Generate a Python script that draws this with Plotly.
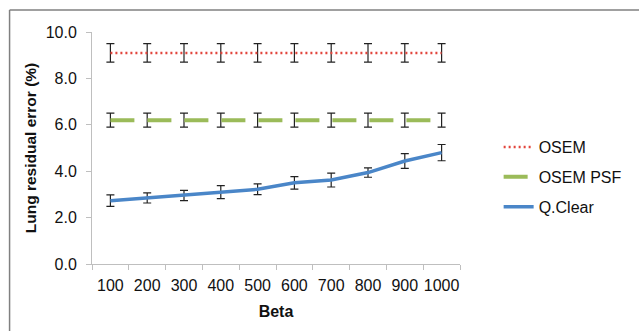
import plotly.graph_objects as go

beta = ["100", "200", "300", "400", "500", "600", "700", "800", "900", "1000"]
osem = [9.1] * 10
osem_err = [0.4] * 10
psf = [6.2] * 10
psf_err = [0.3] * 10
qclear = [2.73, 2.85, 2.95, 3.1, 3.22, 3.5, 3.62, 3.94, 4.44, 4.8]
qclear_err = [0.25, 0.22, 0.22, 0.28, 0.23, 0.27, 0.3, 0.2, 0.32, 0.35]

FONT = "Liberation Sans, Arial, sans-serif"

fig = go.Figure()

def err(vals):
    return dict(type="data", array=vals, visible=True, color="#222222", thickness=1.2, width=4)

fig.add_trace(go.Scatter(x=beta, y=osem, mode="lines", name="OSEM", legendgroup="a",
                         line=dict(color="#E2453C", width=2.5, dash="2px,3px"),
                         error_y=err(osem_err)))
fig.add_trace(go.Scatter(x=beta, y=psf, mode="lines", name="OSEM PSF", legendgroup="b",
                         line=dict(color="#9BBB59", width=4, dash="24px,13px"),
                         error_y=err(psf_err)))
fig.add_trace(go.Scatter(x=beta, y=qclear, mode="lines", name="Q.Clear", legendgroup="c",
                         line=dict(color="#4A86C8", width=3.5),
                         error_y=err(qclear_err)))

fig.update_layout(
    width=639, height=331,
    margin=dict(l=92, r=172, t=32, b=67),
    paper_bgcolor="white", plot_bgcolor="white",
    font=dict(family=FONT, size=16, color="#111111"),
    showlegend=True,
    legend=dict(x=1.105, y=0.577, xanchor="left", yanchor="top",
                font=dict(size=16), tracegroupgap=6, bgcolor="rgba(0,0,0,0)"),
    xaxis=dict(type="category", showgrid=False, showline=True, linecolor="#BFBFBF",
               ticks="outside", tickson="boundaries", ticklen=5, tickcolor="#BFBFBF",
               tickangle=0, tickfont=dict(size=16), ticklabelstandoff=7,
               title=dict(text="<b>Beta</b>", font=dict(size=16), standoff=12),
               zeroline=False),
    yaxis=dict(range=[0, 10], dtick=2, tickformat=".1f", showgrid=False, showline=True,
               linecolor="#BFBFBF", ticks="outside", ticklen=5, tickcolor="#BFBFBF",
               tickfont=dict(size=16), ticklabelstandoff=6,
               title=dict(text="<b>Lung residual error (%)</b>", font=dict(size=15.5), standoff=5),
               zeroline=False),
    shapes=[
        dict(type="line", xref="paper", yref="paper", x0=-0.224, x1=1.5, y0=1.095, y1=1.095,
             line=dict(color="#808080", width=1.5)),
        dict(type="line", xref="paper", yref="paper", x0=-0.224, x1=-0.224, y0=1.095, y1=-0.4,
             line=dict(color="#808080", width=1.5)),
    ],
)

fig.write_html("out.html", config={"displayModeBar": False},
               post_script="document.body.style.margin='0';")
